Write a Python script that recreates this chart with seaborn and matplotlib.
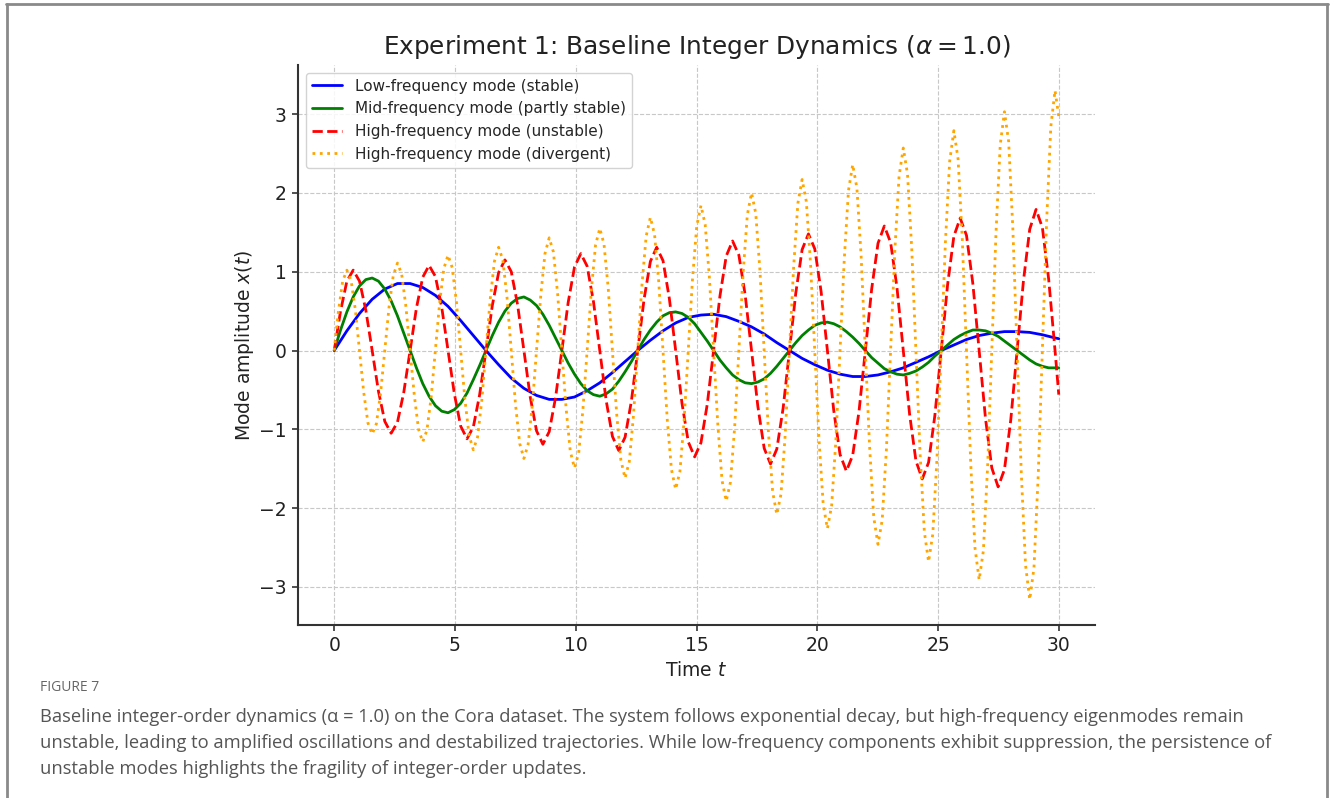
import numpy as np
import matplotlib
matplotlib.use("Agg")
import matplotlib.pyplot as plt
import seaborn as sns
from matplotlib.lines import Line2D

# ---------------- data ----------------
TITLE = r"Experiment 1: Baseline Integer Dynamics ($\alpha = 1.0$)"
XLABEL = r"Time $t$"
YLABEL = r"Mode amplitude $x(t)$"
XTICKS = [0, 5, 10, 15, 20, 25, 30]
YTICKS = [-3, -2, -1, 0, 1, 2, 3]

labels = ["Low-frequency mode (stable)",
          "Mid-frequency mode (partly stable)",
          "High-frequency mode (unstable)",
          "High-frequency mode (divergent)"]

# sample times (s) for each curve; last sample is the end of the run, t = 30
t_end = 30.0
t_low = np.append(np.arange(58) * np.pi / 6, t_end)
t_mid = np.append(np.arange(115) * np.pi / 12, t_end)
t_high = np.append(np.arange(115) * np.pi / 12, t_end)
t_div = np.append(np.arange(172) * np.pi / 18, t_end)

low_vals = [0, 0.25, 0.47, 0.65, 0.78, 0.85, 0.85, 0.80, 0.70, 0.56, 0.38, 0.19,
            0, -0.18, -0.35, -0.48, -0.57, -0.62, -0.62, -0.59, -0.51, -0.41, -0.28, -0.14,
            0, 0.13, 0.25, 0.35, 0.42, 0.45, 0.46, 0.43, 0.37, 0.30, 0.21, 0.10,
            0, -0.10, -0.18, -0.25, -0.30, -0.33, -0.33, -0.31, -0.27, -0.22, -0.15, -0.08,
            0, 0.07, 0.14, 0.19, 0.22, 0.24, 0.24, 0.23, 0.20, 0.16,
            0.15]

mid_vals = [0, 0.26, 0.49, 0.68, 0.82, 0.90, 0.92, 0.88, 0.78, 0.63, 0.44, 0.22,
            0, -0.22, -0.42, -0.58, -0.70, -0.77, -0.79, -0.75, -0.67, -0.54, -0.37, -0.19,
            0, 0.19, 0.36, 0.50, 0.60, 0.66, 0.68, 0.64, 0.57, 0.46, 0.32, 0.16,
            0, -0.16, -0.30, -0.42, -0.51, -0.56, -0.58, -0.55, -0.49, -0.39, -0.27, -0.14,
            0, 0.14, 0.26, 0.36, 0.44, 0.48, 0.49, 0.47, 0.42, 0.34, 0.23, 0.12,
            0, -0.12, -0.22, -0.31, -0.37, -0.41, -0.42, -0.40, -0.36, -0.29, -0.20, -0.10,
            0, 0.10, 0.19, 0.26, 0.32, 0.35, 0.36, 0.34, 0.30, 0.24, 0.17, 0.09,
            0, -0.09, -0.16, -0.23, -0.27, -0.30, -0.31, -0.29, -0.26, -0.21, -0.15, -0.07,
            0, 0.07, 0.14, 0.19, 0.23, 0.26, 0.26, 0.25, 0.22, 0.18, 0.12, 0.06,
            0, -0.06, -0.12, -0.17, -0.20, -0.22, -0.22,
            -0.22]

high_vals = [0, 0.50, 0.88, 1.02, 0.88, 0.51, 0, -0.52, -0.90, -1.05, -0.91, -0.53,
             0, 0.54, 0.93, 1.08, 0.94, 0.55, 0, -0.55, -0.96, -1.12, -0.97, -0.56,
             0, 0.57, 0.99, 1.15, 1.00, 0.58, 0, -0.59, -1.02, -1.19, -1.03, -0.60,
             0, 0.61, 1.06, 1.23, 1.07, 0.62, 0, -0.63, -1.09, -1.27, -1.10, -0.64,
             0, 0.65, 1.13, 1.31, 1.14, 0.66, 0, -0.67, -1.16, -1.35, -1.17, -0.68,
             0, 0.69, 1.20, 1.39, 1.21, 0.70, 0, -0.71, -1.24, -1.44, -1.25, -0.73,
             0, 0.73, 1.28, 1.48, 1.29, 0.75, 0, -0.76, -1.32, -1.53, -1.33, -0.77,
             0, 0.78, 1.36, 1.58, 1.37, 0.80, 0, -0.81, -1.40, -1.63, -1.42, -0.82,
             0, 0.83, 1.45, 1.68, 1.46, 0.85, 0, -0.86, -1.49, -1.73, -1.51, -0.88,
             0, 0.88, 1.54, 1.79, 1.56, 0.90, 0,
             -0.56]

div_vals = [0, 0.50, 0.88, 1.02, 0.89, 0.52, 0, -0.53, -0.92, -1.06, -0.93, -0.54,
            0, 0.55, 0.95, 1.11, 0.97, 0.56, 0, -0.57, -1.00, -1.16, -1.01, -0.59,
            0, 0.60, 1.04, 1.21, 1.05, 0.61, 0, -0.62, -1.08, -1.26, -1.10, -0.64,
            0, 0.65, 1.13, 1.31, 1.15, 0.67, 0, -0.68, -1.18, -1.37, -1.19, -0.69,
            0, 0.70, 1.23, 1.43, 1.25, 0.72, 0, -0.73, -1.28, -1.49, -1.30, -0.75,
            0, 0.77, 1.34, 1.55, 1.35, 0.79, 0, -0.80, -1.39, -1.62, -1.41, -0.82,
            0, 0.83, 1.45, 1.69, 1.47, 0.86, 0, -0.87, -1.51, -1.76, -1.54, -0.89,
            0, 0.91, 1.58, 1.84, 1.60, 0.93, 0, -0.94, -1.65, -1.91, -1.67, -0.97,
            0, 0.98, 1.72, 2.00, 1.74, 1.01, 0, -1.03, -1.79, -2.08, -1.82, -1.06,
            0, 1.07, 1.87, 2.17, 1.89, 1.10, 0, -1.12, -1.95, -2.26, -1.97, -1.15,
            0, 1.16, 2.03, 2.36, 2.06, 1.20, 0, -1.21, -2.12, -2.46, -2.15, -1.25,
            0, 1.27, 2.21, 2.57, 2.24, 1.30, 0, -1.32, -2.30, -2.68, -2.33, -1.36,
            0, 1.38, 2.40, 2.79, 2.43, 1.41, 0, -1.43, -2.50, -2.91, -2.54, -1.48,
            0, 1.50, 2.61, 3.03, 2.65, 1.54, 0, -1.56, -2.72, -3.16, -2.76, -1.60,
            0, 1.63, 2.84, 3.30,
            2.97]

FIG_LABEL = "FIGURE 7"
CAPTION = [
    "Baseline integer-order dynamics (\u03b1 = 1.0) on the Cora dataset. The system follows exponential decay, but high-frequency eigenmodes remain",
    "unstable, leading to amplified oscillations and destabilized trajectories. While low-frequency components exhibit suppression, the persistence of",
    "unstable modes highlights the fragility of integer-order updates.",
]

# ---------------- style ----------------
sns.set_theme(style="ticks")
plt.rcParams['font.family'] = ['DejaVu Sans']
plt.rcParams['mathtext.fontset'] = 'dejavusans'

W, H = 1330, 798
fig = plt.figure(figsize=(W / 100, H / 100), dpi=100)
fig.patch.set_facecolor('white')
ax = fig.add_axes([298 / W, 1 - 625 / H, (1095 - 298) / W, (625 - 65) / H])

series = [
    (t_low, low_vals, "blue", "-"),
    (t_mid, mid_vals, "green", "-"),
    (t_high, high_vals, "red", "--"),
    (t_div, div_vals, "orange", ":"),
]
for (tt, vv, col, ls), lab in zip(series, labels):
    sns.lineplot(x=tt, y=np.asarray(vv, dtype=float), ax=ax, color=col,
                 linestyle=ls, linewidth=2.0, label=lab, errorbar=None)

ax.margins(x=0.05, y=0.05)
ax.set_xticks(XTICKS)
ax.set_yticks(YTICKS)
ax.set_yticklabels([("\u2212%d" % -v) if v < 0 else str(v) for v in YTICKS])
ax.grid(True, linestyle='--', color='#c8c8c8', linewidth=0.8)
ax.set_axisbelow(True)
sns.despine(ax=ax)
for s in ("left", "bottom"):
    ax.spines[s].set_color('#333333')
    ax.spines[s].set_linewidth(1.5)
ax.tick_params(axis='both', length=4, width=1.2, color='#333333',
               labelsize=13.5, labelcolor='#222222', pad=4)

ax.set_title(TITLE, fontsize=17.8, color='#222222', pad=8)
ax.set_xlabel(XLABEL, fontsize=13.5, color='#222222', labelpad=4)
ax.set_ylabel(YLABEL, fontsize=13.5, color='#222222', labelpad=2)

leg = ax.legend(loc='upper left', fontsize=11, frameon=True, fancybox=True,
                framealpha=0.85, edgecolor='#cccccc', borderaxespad=0.5)
leg.get_frame().set_linewidth(1.0)

# ---------------- page frame and caption ----------------
frame_col = '#8a8a8a'
fig.add_artist(Line2D([7 / W, 7 / W], [0, 1 - 4 / H], transform=fig.transFigure,
                      color=frame_col, linewidth=2))
fig.add_artist(Line2D([1327 / W, 1327 / W], [0, 1 - 4 / H], transform=fig.transFigure,
                      color=frame_col, linewidth=2))
fig.add_artist(Line2D([6 / W, 1328 / W], [1 - 4 / H, 1 - 4 / H], transform=fig.transFigure,
                      color=frame_col, linewidth=2))

cap_fonts = ['Liberation Sans Narrow', 'Open Sans', 'DejaVu Sans']
fig.text(40 / W, 1 - 691 / H, FIG_LABEL, fontsize=10, color='#666666',
         family=cap_fonts, va='baseline', ha='left')
texts = []
for i, line in enumerate(CAPTION):
    texts.append(fig.text(40 / W, 1 - (722 + 26 * i) / H, line, fontsize=13,
                          color='#555555', family=cap_fonts, va='baseline', ha='left'))
# fit caption size so that the first line spans the width it has in the reference
fig.canvas.draw()
r = fig.canvas.get_renderer()
w0 = texts[0].get_window_extent(r).width
scale = (1243 - 40) / w0
for tx in texts:
    tx.set_fontsize(13 * scale)

fig.savefig("out.png", dpi=100, facecolor='white')
